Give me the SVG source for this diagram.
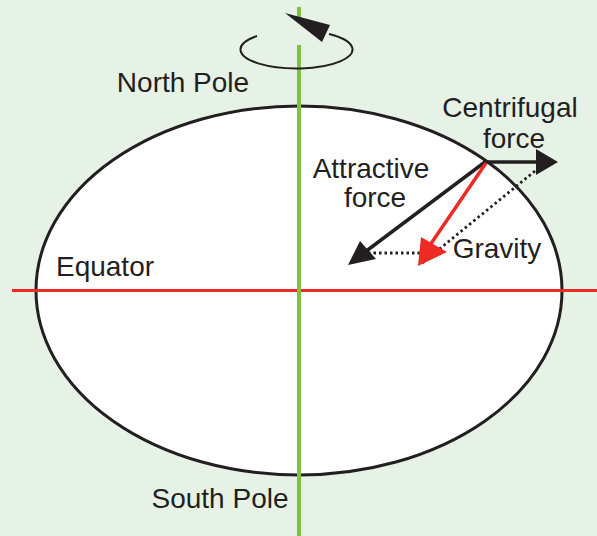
<svg xmlns="http://www.w3.org/2000/svg" width="597" height="536" viewBox="0 0 597 536">
<style>
text{font-family:"Liberation Sans",Arial,sans-serif;font-size:28px;fill:#231f20;text-anchor:middle}
.blk{stroke:#231f20;stroke-width:3.5;fill:none}
.dot{stroke:#231f20;stroke-width:2.8;stroke-dasharray:2.5 3;fill:none}
</style>
<rect width="597" height="536" fill="#e6f2e6"/>
<g id="earth"><ellipse cx="299" cy="290.5" rx="263" ry="184.5" fill="#fff" stroke="#231f20" stroke-width="3"/></g>
<g id="equator-line"><line x1="12" y1="290.5" x2="597" y2="290.5" stroke="#ee2a24" stroke-width="3"/></g>
<g id="axis">
<line x1="299" y1="7" x2="299" y2="17" stroke="#7dc242" stroke-width="4"/>
<line x1="299" y1="45" x2="299" y2="536" stroke="#7dc242" stroke-width="4"/>
</g>
<g id="rotation">
<path d="M257,36 A56,19 0 1,0 329,34" fill="none" stroke="#231f20" stroke-width="2"/>
<polygon points="285,13 330,25 322,42" fill="#231f20"/>
</g>
<g id="connectors">
<line class="dot" x1="368" y1="253" x2="420" y2="253"/>
<line class="dot" x1="535" y1="171" x2="421" y2="264"/>
<line class="blk" x1="483" y1="162" x2="540" y2="162"/>
<polygon points="558,162 536,149 536,175" fill="#231f20"/>
<line class="blk" x1="485" y1="162" x2="365" y2="252"/>
<polygon points="348,265 360,241 376,259" fill="#231f20"/>
<line x1="486" y1="163" x2="428" y2="248" stroke="#ee2a24" stroke-width="3.5"/>
<polygon points="418,266 421,237 447,252" fill="#ee2a24"/>
</g>
<g id="labels">
<text x="183" y="92">North Pole</text>
<text x="510" y="117">Centrifugal</text>
<text x="514" y="148">force</text>
<text x="371" y="178">Attractive</text>
<text x="375" y="207">force</text>
<text x="105" y="276">Equator</text>
<text x="497" y="258">Gravity</text>
<text x="220" y="508">South Pole</text>
</g>
</svg>
